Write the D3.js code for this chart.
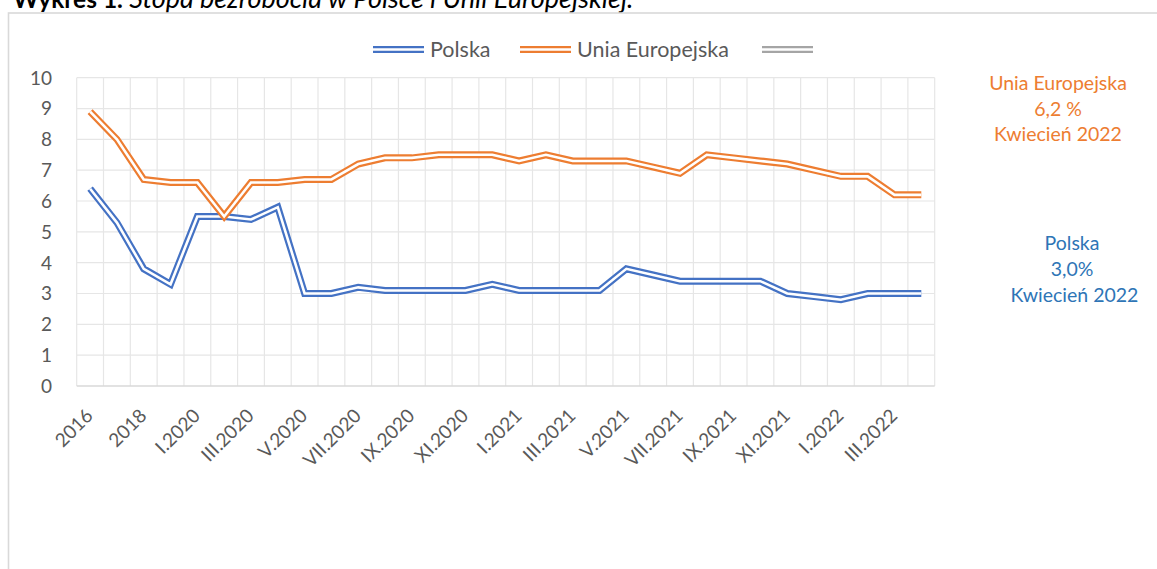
<!DOCTYPE html>
<html>
<head>
<meta charset="utf-8">
<script src="https://cdn.jsdelivr.net/npm/d3@7"></script>
<style>
  body { margin: 0; background: #fff; }
  svg { display: block; font-family: Lato, "Open Sans", sans-serif; }
</style>
</head>
<body>
<svg id="chart" width="1157" height="569"></svg>
<script>
// Categories (years, then months as roman numerals)
const categories = ["2016", "2017", "2018", "2019",
  "I.2020", "II.2020", "III.2020", "IV.2020", "V.2020", "VI.2020", "VII.2020", "VIII.2020",
  "IX.2020", "X.2020", "XI.2020", "XII.2020",
  "I.2021", "II.2021", "III.2021", "IV.2021", "V.2021", "VI.2021", "VII.2021", "VIII.2021",
  "IX.2021", "X.2021", "XI.2021", "XII.2021",
  "I.2022", "II.2022", "III.2022", "IV.2022"];
// every second category gets a label
const tickLabels = categories.filter((d, i) => i % 2 === 0);
const yTicks = [0, 1, 2, 3, 4, 5, 6, 7, 8, 9, 10];

const polska = [6.4, 5.3, 3.8, 3.3, 5.5, 5.5, 5.4, 5.8, 3.0, 3.0, 3.2, 3.1, 3.1, 3.1, 3.1, 3.3,
  3.1, 3.1, 3.1, 3.1, 3.8, 3.6, 3.4, 3.4, 3.4, 3.4, 3.0, 2.9, 2.8, 3.0, 3.0, 3.0];
const uniaEuropejska = [8.9, 8.0, 6.7, 6.6, 6.6, 5.5, 6.6, 6.6, 6.7, 6.7, 7.2, 7.4, 7.4, 7.5, 7.5, 7.5,
  7.3, 7.5, 7.3, 7.3, 7.3, 7.1, 6.9, 7.5, 7.4, 7.3, 7.2, 7.0, 6.8, 6.8, 6.2, 6.2];

const legendNames = ["Polska", "Unia Europejska", ""];
const legendColors = ["#4472C4", "#ED7D31", "#A5A5A5"];

const euNote = ["Unia Europejska", "6,2 %", "Kwiecień 2022"];
const plNote = ["Polska", "3,0%", " Kwiecień 2022"];

const svg = d3.select("#chart");
const textColor = "#595959";

// title (cut off at the top of the page)
const title = svg.append("text")
  .attr("x", 13)
  .attr("y", 7.5)
  .attr("fill", "#000");
title.append("tspan").style("font-weight", "bold").style("font-size", "24.5px").text("Wykres 1.");
title.append("tspan").style("font-style", "italic").style("font-size", "27px")
  .text(" Stopa bezrobocia w Polsce i Unii Europejskiej.");

// chart frame
svg.append("rect")
  .attr("x", 8.5).attr("y", 13)
  .attr("width", 1200).attr("height", 600)
  .attr("fill", "none")
  .attr("stroke", "#D9D9D9")
  .attr("stroke-width", 1.6);

// scales
const x = d3.scaleBand()
  .domain(categories)
  .range([76.7, 934.7])
  .padding(0);
const y = d3.scaleLinear()
  .domain([0, 10])
  .range([386, 77.7]);
const cx = d => x(d) + x.bandwidth() / 2;

// gridlines
const grid = svg.append("g");
grid.selectAll(".hgrid")
  .data(yTicks.filter(v => v > 0))
  .enter().append("line")
  .attr("x1", 76.7).attr("x2", 934.7)
  .attr("y1", d => y(d)).attr("y2", d => y(d))
  .attr("stroke", "#E6E6E6").attr("stroke-width", 1.2);
grid.selectAll(".vgrid")
  .data(categories.map(c => x(c)).concat([934.7]))
  .enter().append("line")
  .attr("x1", d => d).attr("x2", d => d)
  .attr("y1", 77.7).attr("y2", 386)
  .attr("stroke", "#E6E6E6").attr("stroke-width", 1.2);
svg.append("line")
  .attr("x1", 76.7).attr("x2", 934.7)
  .attr("y1", 386).attr("y2", 386)
  .attr("stroke", "#D9D9D9").attr("stroke-width", 1.4);

// y axis labels
svg.selectAll(".ylab")
  .data(yTicks)
  .enter().append("text")
  .attr("x", 52)
  .attr("y", d => y(d))
  .attr("dy", "0.36em")
  .attr("text-anchor", "end")
  .attr("fill", textColor)
  .style("font-size", "19px")
  .text(d => d);

// x axis labels, rotated
svg.selectAll(".xlab")
  .data(tickLabels)
  .enter().append("text")
  .attr("transform", d => `translate(${cx(d) + 4},${417}) rotate(-45)`)
  .attr("text-anchor", "end")
  .attr("fill", textColor)
  .style("font-size", "19px")
  .text(d => d);

// double lines (compound line style)
const line = d3.line()
  .x((d, i) => cx(categories[i]))
  .y(d => y(d));

function doubleLine(values, color) {
  const g = svg.append("g");
  g.append("path")
    .attr("d", line(values))
    .attr("fill", "none")
    .attr("stroke", color)
    .attr("stroke-width", 7)
    .attr("stroke-linejoin", "miter");
  g.append("path")
    .attr("d", line(values))
    .attr("fill", "none")
    .attr("stroke", "#fff")
    .attr("stroke-width", 2.6)
    .attr("stroke-linejoin", "miter");
}
doubleLine(polska, legendColors[0]);
doubleLine(uniaEuropejska, legendColors[1]);

// legend
const legendX = [373, 520, 762];
const legend = svg.append("g");
legendNames.forEach((name, i) => {
  legend.append("line")
    .attr("x1", legendX[i]).attr("x2", legendX[i] + 51)
    .attr("y1", 49.5).attr("y2", 49.5)
    .attr("stroke", legendColors[i]).attr("stroke-width", 7);
  legend.append("line")
    .attr("x1", legendX[i]).attr("x2", legendX[i] + 51)
    .attr("y1", 49.5).attr("y2", 49.5)
    .attr("stroke", "#fff").attr("stroke-width", 2.6);
  legend.append("text")
    .attr("x", legendX[i] + 57)
    .attr("y", 56.5)
    .attr("fill", textColor)
    .style("font-size", "21.5px")
    .text(name);
});

// end-of-series notes
function note(lines, cxPos, y0, color) {
  svg.append("g").selectAll("text")
    .data(lines)
    .enter().append("text")
    .attr("x", cxPos)
    .attr("y", (d, i) => y0 + i * 25.8)
    .attr("dy", "0.35em")
    .attr("text-anchor", "middle")
    .attr("fill", color)
    .style("font-size", "19.5px")
    .style("white-space", "pre")
    .text(d => d);
}
note(euNote, 1058, 83, "#ED7D31");
note(plNote, 1072, 243.5, "#2E75B6");
</script>
</body>
</html>
